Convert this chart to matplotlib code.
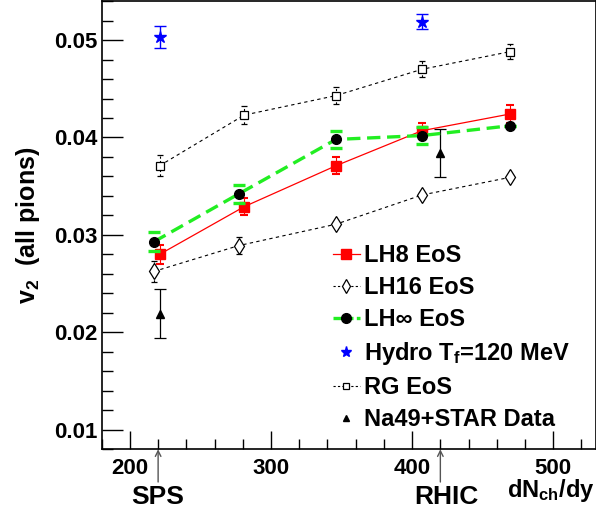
import matplotlib
matplotlib.use("Agg")
import matplotlib.pyplot as plt
from matplotlib.lines import Line2D
from matplotlib.ticker import MultipleLocator, FormatStrFormatter

plt.rcParams['font.family'] = ['Liberation Sans', 'DejaVu Sans']
plt.rcParams['font.weight'] = 'bold'
plt.rcParams['mathtext.fontset'] = 'custom'
plt.rcParams['mathtext.rm'] = 'Liberation Sans:bold'
plt.rcParams['mathtext.it'] = 'Liberation Sans:bold'
plt.rcParams['mathtext.bf'] = 'Liberation Sans:bold'

# LH8 EoS
lh8_x = [221, 281, 346, 407, 469]
lh8_y = [0.0280, 0.0329, 0.0371, 0.0407, 0.0424]
lh8_e = [0.0010, 0.0009, 0.00086, 0.0008, 0.0009]

# LH16 EoS
lh16_x = [217, 277, 346, 407, 469]
lh16_y = [0.02625, 0.0289, 0.0311, 0.0341, 0.0359]
lh16_e = [0.00105, 0.0009, 0.0, 0.0, 0.0]

# LH-infinity EoS
lhinf_x = [217, 277, 346, 407, 469]
lhinf_y = [0.0293, 0.0342, 0.0398, 0.0402, 0.0412]
lhinf_e = [0.0010, 0.00096, 0.00086, 0.00086, 0.0]

# Hydro Tf=120 MeV
hydro_x = [221, 407]
hydro_y = [0.0503, 0.0519]
hydro_e = [0.0011, 0.00075]

# RG EoS
rg_x = [221, 281, 346, 407, 469]
rg_y = [0.0371, 0.0423, 0.0443, 0.0470, 0.0488]
rg_e = [0.00106, 0.00094, 0.00087, 0.0008, 0.00077]

# Na49 + STAR data
data_x = [221, 420]
data_y = [0.0219, 0.0384]
data_e = [0.0025, 0.0025]

labels = ['LH8 EoS', 'LH16 EoS', 'LH\u221e EoS', 'Hydro T$_{\\rm f}$=120 MeV',
          'RG EoS', 'Na49+STAR Data']

fig = plt.figure(figsize=(5.96, 5.14), dpi=100)
ax = fig.add_axes([0.1706, 0.1259, 0.8287, 0.872])

green = '#22ee22'

e = ax.errorbar(rg_x, rg_y, yerr=rg_e, color='black', lw=0.8, ls=(0, (3, 3)),
                marker='s', ms=6, mfc='white', mec='black', mew=0.9,
                capsize=2.5, elinewidth=0.8)
e[2][0].set_linestyle((0, (2, 2)))

e = ax.errorbar(lh16_x, lh16_y, yerr=lh16_e, color='black', lw=0.8, ls=(0, (3, 3)),
                marker='d', ms=8, mfc='white', mec='black', mew=0.9,
                capsize=2.5, elinewidth=0.8)
e[2][0].set_linestyle((0, (2, 2)))

ax.errorbar(lh8_x, lh8_y, yerr=lh8_e, color='red', lw=0.9,
            marker='s', ms=7, mfc='red', mec='red',
            capsize=3, elinewidth=0.8, capthick=1.5, zorder=4)

ax.errorbar(lhinf_x, lhinf_y, yerr=lhinf_e, color=green, lw=2.4, ls=(0, (4, 2)),
            marker='o', ms=7, mfc='black', mec='black',
            ecolor=green, capsize=4, elinewidth=0, capthick=2.4, zorder=5)

ax.errorbar(hydro_x, hydro_y, yerr=hydro_e, color='blue', ls='none',
            marker='*', ms=9, capsize=4, elinewidth=1, capthick=1)

ax.errorbar(data_x, data_y, yerr=data_e, color='black', ls='none',
            marker='^', ms=6, capsize=4, elinewidth=0.9, capthick=0.9)

ax.set_xlim(180, 530)
ax.set_ylim(0.008, 0.054)
ax.xaxis.set_major_locator(MultipleLocator(100))
ax.xaxis.set_minor_locator(MultipleLocator(20))
ax.yaxis.set_major_locator(MultipleLocator(0.01))
ax.yaxis.set_minor_locator(MultipleLocator(0.002))
ax.tick_params(which='both', direction='in', labelsize=16, width=1)
ax.tick_params(axis='x', which='major', length=13, pad=6)
ax.tick_params(axis='x', which='minor', length=7)
ax.tick_params(axis='y', which='major', length=15, pad=3)
ax.tick_params(axis='y', which='minor', length=8)
ax.yaxis.set_major_formatter(FormatStrFormatter('%.2f'))
for s in ax.spines.values():
    s.set_linewidth(1.2)

ax.set_ylabel('v$_2$  (all pions)', fontsize=18, fontweight='bold', labelpad=9)

# beam energy markers
for xp in [220, 420]:
    ax.annotate('', xy=(xp, 0.0), xycoords=('data', 'axes fraction'),
                xytext=(xp, -0.073), textcoords=('data', 'axes fraction'),
                arrowprops=dict(arrowstyle='->', color='#555555', lw=1.0,
                                shrinkA=0, shrinkB=0, mutation_scale=10),
                annotation_clip=False)
ax.text(220, -0.107, 'SPS', transform=ax.get_xaxis_transform(), ha='center',
        va='center', fontsize=19, fontweight='bold')
ax.text(424, -0.107, 'RHIC', transform=ax.get_xaxis_transform(), ha='center',
        va='center', fontsize=19, fontweight='bold')
ax.text(0.998, -0.093, 'dN$_{\\rm ch}$/dy', transform=ax.transAxes, ha='right',
        va='center', fontsize=17, fontweight='bold')

handles = [
    Line2D([], [], color='red', lw=0.9, marker='s', ms=7, mfc='red', mec='red'),
    Line2D([], [], color='black', lw=0.8, ls=(0, (2, 2)), marker='d', ms=7,
           mfc='white', mec='black', mew=0.9),
    Line2D([], [], color=green, lw=2.4, ls=(0, (2.5, 1)), marker='o', ms=7,
           mfc='black', mec='black'),
    Line2D([], [], color='blue', ls='none', marker='*', ms=8),
    Line2D([], [], color='black', lw=0.8, ls=(0, (2, 2)), marker='s', ms=5,
           mfc='white', mec='black', mew=0.9),
    Line2D([], [], color='black', ls='none', marker='^', ms=5),
]
ax.legend(handles, labels, loc='upper left', bbox_to_anchor=(0.468, 0.457),
          frameon=False, fontsize=17, handlelength=1.15, handletextpad=0.15,
          labelspacing=0.38, borderaxespad=0, borderpad=0)

fig.savefig('out.png', dpi=100)
